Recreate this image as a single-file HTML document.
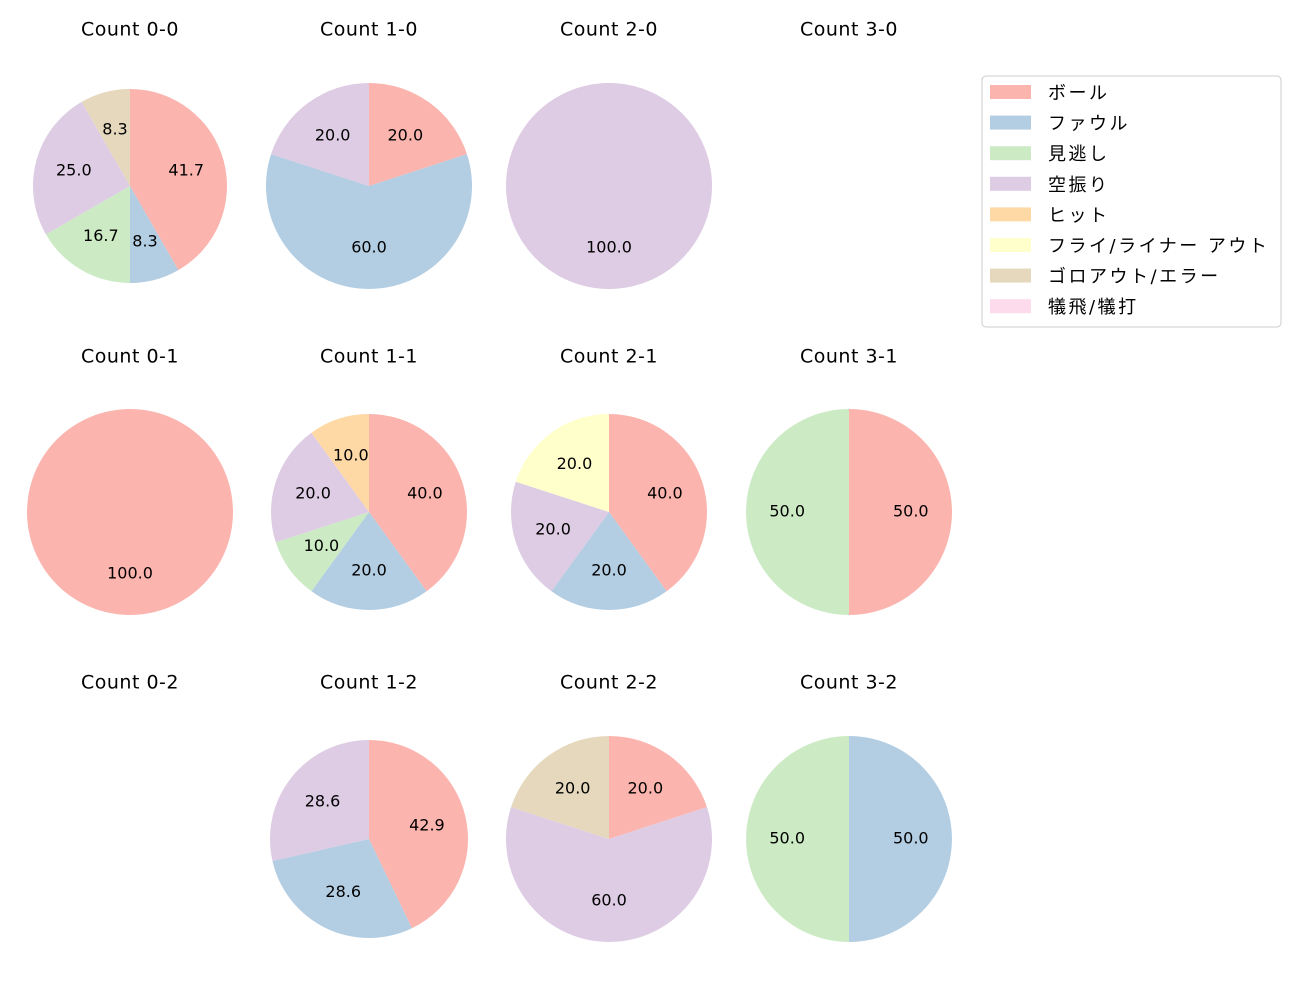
<!DOCTYPE html>
<html><head><meta charset="utf-8"><style>
body{margin:0;background:#fff;}
svg text{font-family:"DejaVu Sans","Noto Sans CJK JP",sans-serif;}
</style></head><body>
<svg id="chart" width="1300" height="1000" viewBox="0 0 1300 1000">
<g id="pies"></g>
<g id="legend">
<rect x="982" y="76" width="299" height="251" rx="4" fill="#fff" stroke="#cccccc" stroke-width="1"/>
</g>
</svg>
<script>
const categories = ["ボール","ファウル","見逃し","空振り","ヒット","フライ/ライナー アウト","ゴロアウト/エラー","犠飛/犠打"];
const colors = ["#fbb4ae","#b3cde3","#ccebc5","#decbe4","#fed9a6","#ffffcc","#e5d8bd","#fddaec"];
const titles = ["Count 0-0","Count 1-0","Count 2-0","Count 3-0","Count 0-1","Count 1-1","Count 2-1","Count 3-1","Count 0-2","Count 1-2","Count 2-2","Count 3-2"];
const v00 = [41.7,8.3,16.7,25.0,0,0,8.3,0];
const v10 = [20,60,0,20,0,0,0,0];
const v20 = [0,0,0,100,0,0,0,0];
const v30 = [0,0,0,0,0,0,0,0];
const v01 = [100,0,0,0,0,0,0,0];
const v11 = [40,20,10,20,10,0,0,0];
const v21 = [40,20,0,20,0,20,0,0];
const v31 = [50,0,50,0,0,0,0,0];
const v02 = [0,0,0,0,0,0,0,0];
const v12 = [42.9,28.6,0,28.6,0,0,0,0];
const v22 = [20,0,0,60,0,0,20,0];
const v32 = [0,50,50,0,0,0,0,0];
const seriesValues = [v00,v10,v20,v30,v01,v11,v21,v31,v02,v12,v22,v32];
const radii = [97,103,103,103,103,98,98,103,103,99,103,103];
const colX = [130,369,609,849];
const rowY = [186,512,839];
const titleY = [30,357,683];
const NS="http://www.w3.org/2000/svg";
const pies=document.getElementById('pies');
function mk(tag,attrs){const e=document.createElementNS(NS,tag);for(const k in attrs)e.setAttribute(k,attrs[k]);return e;}
seriesValues.forEach((vals,i)=>{
  const cx=colX[i%4], cy=rowY[Math.floor(i/4)], r=radii[i];
  const g=mk('g',{});
  
  
  pies.appendChild(g);
  const t=mk('text',{x:cx,y:titleY[Math.floor(i/4)],'text-anchor':'middle','dominant-baseline':'middle','font-size':'19','letter-spacing':'0.5',fill:'#000'});
  t.textContent=titles[i];
  
  
  g.appendChild(t);
  const total=vals.reduce((a,b)=>a+b,0);
  if(!total)return;
  let ang=90;
  vals.forEach((v,j)=>{
    if(v<=0)return;
    const sweep=v/total*360;
    const a0=ang*Math.PI/180, a1=(ang-sweep)*Math.PI/180;
    let el;
    if(sweep>=359.99){el=mk('circle',{cx:cx,cy:cy,r:r,fill:colors[j]});}
    else{
      const x0=cx+r*Math.cos(a0), y0=cy-r*Math.sin(a0), x1=cx+r*Math.cos(a1), y1=cy-r*Math.sin(a1);
      el=mk('path',{d:`M${cx},${cy}L${x0},${y0}A${r},${r} 0 ${sweep>180?1:0} 1 ${x1},${y1}Z`,fill:colors[j]});
    }
    
    
    g.appendChild(el);
    const am=(ang-sweep/2)*Math.PI/180;
    const lt=mk('text',{x:cx+0.6*r*Math.cos(am),y:cy-0.6*r*Math.sin(am),'text-anchor':'middle','dominant-baseline':'middle','font-size':'16',fill:'#000'});
    lt.textContent=(v/total*100).toFixed(1);
    
    
    g.appendChild(lt);
    ang-=sweep;
  });
});
const lg=document.getElementById('legend');
categories.forEach((c,j)=>{
  const y=92+j*30.6;
  const s=mk('rect',{x:990,y:y-7,width:41,height:14,fill:colors[j]});
  
  
  lg.appendChild(s);
  const t=mk('text',{x:1048,y:y+2,'dominant-baseline':'middle','font-size':'18','letter-spacing':'2.5',fill:'#000'});
  t.textContent=c;
  
  
  lg.appendChild(t);
});
</script>
</body></html>
